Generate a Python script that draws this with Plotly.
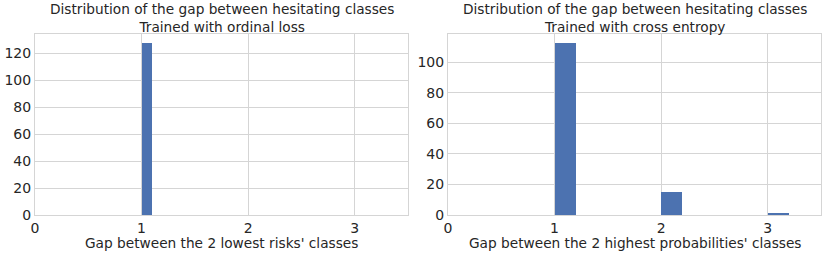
import plotly.graph_objects as go

# Data (histogram bins)
ordinal_bin_left = [1.0]
ordinal_counts = [128]
ordinal_bin_width = 0.1

ce_bin_left = [1.0, 2.0, 3.0]
ce_counts = [113, 15, 1]
ce_bin_width = 0.2

xticks = [0, 1, 2, 3]
left_yticks = [0, 20, 40, 60, 80, 100, 120]
right_yticks = [0, 20, 40, 60, 80, 100]

titles = [
    "Distribution of the gap between hesitating classes<br>Trained with ordinal loss",
    "Distribution of the gap between hesitating classes<br>Trained with cross entropy",
]
xlabels = [
    "Gap between the 2 lowest risks' classes",
    "Gap between the 2 highest probabilities' classes",
]

W, H = 830, 259
bar_color = "#4C72B0"
grid_color = "#d5d5d5"
text_color = "#262626"
font_family = "DejaVu Sans"

fig = go.Figure()

fig.add_trace(go.Bar(
    x=ordinal_bin_left, y=ordinal_counts, width=[ordinal_bin_width] * len(ordinal_bin_left),
    offset=0, marker=dict(color=bar_color, line=dict(width=0)),
    xaxis="x", yaxis="y", showlegend=False,
))
fig.add_trace(go.Bar(
    x=ce_bin_left, y=ce_counts, width=[ce_bin_width] * len(ce_bin_left),
    offset=0, marker=dict(color=bar_color, line=dict(width=0)),
    xaxis="x2", yaxis="y2", showlegend=False,
))

left_dom = [35 / W, 408 / W]
right_dom = [448 / W, 821 / W]
y_dom = [1 - 215 / H, 1 - 34 / H]

axis_common = dict(
    showgrid=True, gridcolor=grid_color, gridwidth=1,
    showline=True, linecolor=grid_color, linewidth=1, mirror=True,
    zeroline=False, ticks="", automargin=False,
    tickfont=dict(size=14, color=text_color, family=font_family),
)

fig.update_layout(
    width=W, height=H,
    margin=dict(l=0, r=0, t=0, b=0),
    paper_bgcolor="white", plot_bgcolor="white",
    font=dict(family=font_family, color=text_color),
    bargap=0,
    xaxis=dict(domain=left_dom, range=[0, 3.5], tickvals=xticks, anchor="y", **axis_common),
    yaxis=dict(domain=y_dom, range=[0, max(ordinal_counts) * 1.05], tickvals=left_yticks, anchor="x", **axis_common),
    xaxis2=dict(domain=right_dom, range=[0, 3.5], tickvals=xticks, anchor="y2", **axis_common),
    yaxis2=dict(domain=y_dom, range=[0, max(ce_counts) * 1.05], tickvals=right_yticks, anchor="x2", **axis_common),
)

for i, dom in enumerate([left_dom, right_dom]):
    cx = (dom[0] + dom[1]) / 2
    fig.add_annotation(
        x=cx, y=1 - 18 / H, xref="paper", yref="paper", text=titles[i],
        showarrow=False, font=dict(size=13.7, color=text_color, family=font_family),
        xanchor="center", yanchor="middle", align="center",
    )
    fig.add_annotation(
        x=cx, y=1 - 243 / H, xref="paper", yref="paper", text=xlabels[i],
        showarrow=False, font=dict(size=13.7, color=text_color, family=font_family),
        xanchor="center", yanchor="middle",
    )

fig.write_html(
    "out.html",
    config={"displayModeBar": False},
    post_script="document.body.style.margin='0';document.body.style.padding='0';",
)
